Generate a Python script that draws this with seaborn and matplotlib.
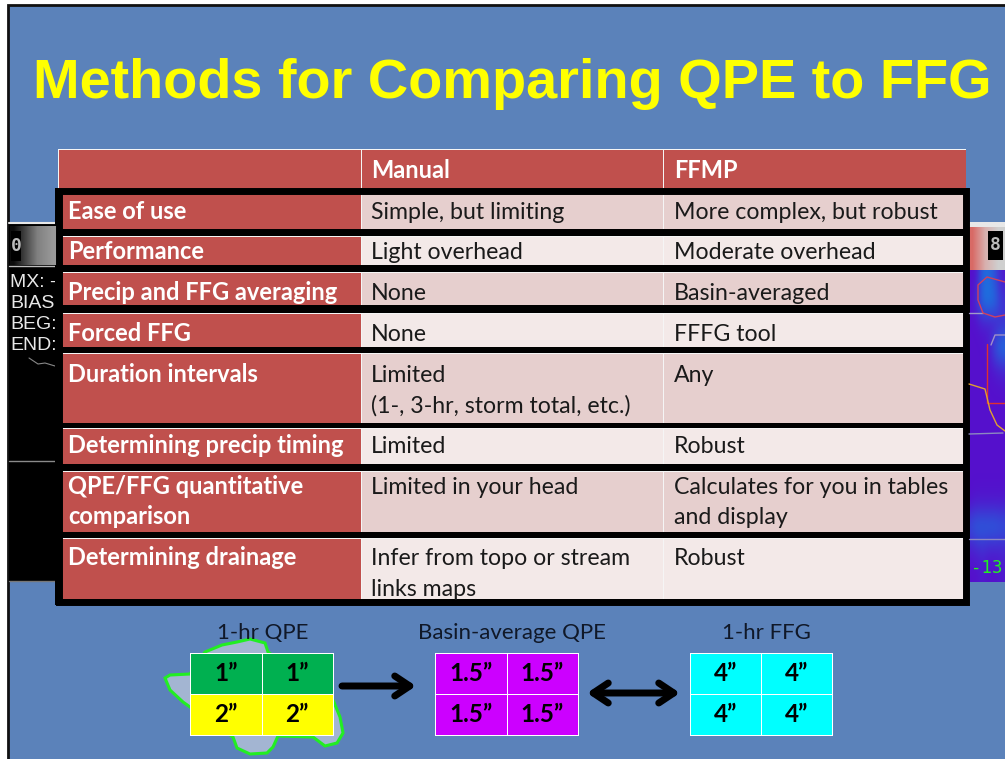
import numpy as np
import matplotlib.pyplot as plt
import seaborn as sns
from matplotlib.colors import ListedColormap, LinearSegmentedColormap
from matplotlib.patches import Polygon, Rectangle

# Table content
header = ["", "Manual", "FFMP"]
row_names = [["Ease of use"], ["Performance"], ["Precip and FFG averaging"], ["Forced FFG"],
             ["Duration intervals"], ["Determining precip timing"],
             ["QPE/FFG quantitative", "comparison"], ["Determining drainage"]]
manual = [["Simple, but limiting"], ["Light overhead"], ["None"], ["None"],
          ["Limited", "(1-, 3-hr, storm total, etc.)"], ["Limited"],
          ["Limited in your head"], ["Infer from topo or stream", "links maps"]]
ffmp = [["More complex, but robust"], ["Moderate overhead"], ["Basin-averaged"], ["FFFG tool"],
        ["Any"], ["Robust"], ["Calculates for you in tables", "and display"], ["Robust"]]

# Grids under the table
qpe_cells = [["1\u201d", "1\u201d"], ["2\u201d", "2\u201d"]]
qpe_codes = [[0, 0], [1, 1]]
basin_cells = [["1.5\u201d", "1.5\u201d"], ["1.5\u201d", "1.5\u201d"]]
ffg_cells = [["4\u201d", "4\u201d"], ["4\u201d", "4\u201d"]]

# Radar strip on the right, 0 = purple, 1 = blue (read by eye)
radar = [[0.0, 0.0, 0.8, 0.9, 0.6, 0.1],
         [0.0, 0.2, 0.9, 1.0, 0.9, 0.4],
         [0.0, 0.0, 0.1, 0.1, 0.1, 0.3],
         [0.0, 0.0, 0.0, 0.1, 0.7, 1.0],
         [0.0, 0.0, 0.0, 0.0, 0.1, 0.2],
         [0.0, 0.0, 0.0, 0.0, 0.0, 0.0],
         [0.0, 0.0, 0.0, 0.0, 0.0, 0.0],
         [0.0, 0.0, 0.0, 0.0, 0.0, 0.0],
         [0.0, 0.0, 0.0, 0.0, 0.0, 0.0],
         [0.0, 0.0, 0.0, 0.0, 0.0, 0.0],
         [0.0, 0.1, 0.1, 0.1, 0.1, 0.1],
         [0.6, 0.8, 0.8, 0.8, 0.8, 0.7],
         [0.1, 0.2, 0.3, 0.2, 0.2, 0.2],
         [0.0, 0.0, 0.1, 0.0, 0.0, 0.1]]

W, H = 1005, 759
RED = "#C0504D"
PINK = "#E6CFCE"
LIGHT = "#F3E9E8"
BG = "#5B82BA"
TEXT = "#1A1A1A"

sns.set_theme(style="white")
plt.rcParams["font.family"] = ["Lato", "DejaVu Sans"]

fig = plt.figure(figsize=(W / 100, H / 100), dpi=100, facecolor="white")


def pixel_axes(left, top, right, bottom, z):
    return fig.add_axes([left / W, 1 - bottom / H, (right - left) / W, (bottom - top) / H], zorder=z)


# Background slide
back = pixel_axes(0, 0, W, H, 0)
back.set_xlim(0, W)
back.set_ylim(H, 0)
back.axis("off")
back.add_patch(Rectangle((8, 5), W, H, fc=BG, ec="#111111", lw=2))

# Black panels behind the table
back.add_patch(Rectangle((9, 222), 60, 360, fc="black", ec="none"))
back.plot([9, 56], [223, 223], color="#E8E8E8", lw=1.5)
back.plot([9, 56], [265.5, 265.5], color="#BBBBBB", lw=1)
back.plot([9, 56], [461, 461], color="#8A8A8A", lw=1)
back.plot([9, 56], [581, 581], color="#777777", lw=1)
back.plot([29, 38, 45, 55], [358, 364, 363, 366], color="#888888", lw=0.8)
back.add_patch(Rectangle((55, 188), 914, 417, fc="black", ec="none", zorder=3))

bar_left = pixel_axes(10, 226, 56, 265, 1)
bar_left.imshow([[0.05, 0.2, 0.35, 0.5, 0.55, 0.6]], aspect="auto", cmap="gray", vmin=0, vmax=1, interpolation="bilinear")
bar_left.axis("off")
for y, s in zip([287, 308, 329, 350], ["MX: -", "BIAS,", "BEG:", "END:"]):
    back.text(10, y, s, color="#E8E8E8", fontsize=14, family="Liberation Sans", zorder=2)

# Right radar strip
strip_cmap = LinearSegmentedColormap.from_list("radar", ["#5510CC", "#1878E0"])
strip = pixel_axes(966, 270, W, 582, 1)
strip.imshow(radar, aspect="auto", cmap=strip_cmap, vmin=0, vmax=1, interpolation="bicubic")
strip.axis("off")

bar_right = pixel_axes(966, 227, W, 270, 1)
bar_right.imshow([[0.0, 0.5, 1.0]], aspect="auto", interpolation="bilinear",
                 cmap=LinearSegmentedColormap.from_list("bar", ["#D86A66", "#D8B0AE", "#CFCFCF"]))
bar_right.axis("off")
back.add_patch(Rectangle((969, 222), 40, 5, fc="#E8E8E8", ec="none"))

# Table rows as one heatmap per row
cmap_cells = ListedColormap([RED, PINK, LIGHT])
row_top = [149, 193, 236, 272, 313, 353, 428, 471, 538]
row_bottom = [189, 229, 265, 305, 347, 423, 464, 532, 599]
baselines = [178, 219, 259, 300, 341, 382, 453, 494, 565]
for i in range(len(row_top)):
    ax = pixel_axes(58, row_top[i], 966, row_bottom[i], 2)
    if i == 0:
        codes = [[0, 0, 0]]
    else:
        tint = 1 if i % 2 == 1 else 2
        codes = [[0, tint, tint]]
    sns.heatmap(codes, ax=ax, cmap=cmap_cells, vmin=0, vmax=2, cbar=False, linewidths=0.7, linecolor="#F5F5F5",
                xticklabels=False, yticklabels=False)

# Bottom grids
grid_cmap = ListedColormap(["#00B050", "#FFFF00"])
for left, right, codes, labels, cmap in [
    (190, 333, qpe_codes, qpe_cells, grid_cmap),
    (435, 578, [[0, 0], [0, 0]], basin_cells, ListedColormap(["#CC00FF"])),
    (690, 832, [[0, 0], [0, 0]], ffg_cells, ListedColormap(["#00FFFF"])),
]:
    ax = pixel_axes(left, 653, right, 735, 2)
    sns.heatmap(codes, ax=ax, cmap=cmap, cbar=False, linewidths=0.6, linecolor="white", clip_on=False,
                xticklabels=False, yticklabels=False, annot=np.array(labels), fmt="",
                annot_kws={"color": "black", "fontsize": 17.5, "fontweight": "bold"})

# Basin outline behind the first grid
basin_x = [205, 222, 237, 250, 265, 268, 333, 340, 343, 337, 325, 313, 278, 273, 267, 250, 237, 233, 190, 183, 170, 165, 170, 190]
basin_y = [652, 645, 642, 639, 643, 652, 700, 717, 733, 743, 746, 737, 736, 747, 753, 754, 748, 737, 707, 702, 690, 678, 675, 674]
back.add_patch(Polygon(list(zip(basin_x, basin_y)), closed=True, fc="#A3B5D2", ec="#22EE22", lw=2.2))

# Overlay with frame and all text
top = pixel_axes(0, 0, W, H, 5)
top.set_xlim(0, W)
top.set_ylim(H, 0)
top.axis("off")
top.patch.set_alpha(0)
top.add_patch(Rectangle((58.5, 191), 907.5, 411, fc="none", ec="black", lw=5, joinstyle="miter"))

# Map lines over the radar strip
top.plot([969, 983], [313, 313], color="#A09AC8", lw=1)
top.plot([1005, 987, 978, 978, 983, 995, 1005], [282, 277, 285, 300, 313, 317, 315], color="#D04060", lw=1)
top.plot([1005, 995, 991], [335, 335, 345], color="#A090C8", lw=1)
top.plot([987, 987, 1005], [344, 403, 403], color="#E03030", lw=1)
top.plot([969, 985, 990, 997, 1005], [384, 389, 410, 425, 431], color="#E0A030", lw=1)
top.plot([969, 1003], [434, 433], color="#8C88C0", lw=1)
top.plot([969, 1005], [539, 539], color="#8C88C0", lw=1)

top.text(33, 98, "Methods for Comparing QPE to FFG", color="#FFFF00", fontsize=40.2, fontweight="bold",
         family="Liberation Sans")

col_x = [68, 371, 674]
BOLD_FS = 17.0
FS = 16.7
top.text(col_x[1], baselines[0], header[1], color="white", fontsize=BOLD_FS, fontweight="bold")
top.text(col_x[2], baselines[0], header[2], color="white", fontsize=BOLD_FS, fontweight="bold")
for i in range(len(row_names)):
    base = baselines[i + 1]
    for k, s in enumerate(row_names[i]):
        top.text(col_x[0], base + 30 * k, s, color="white", fontsize=BOLD_FS, fontweight="bold")
    for k, s in enumerate(manual[i]):
        top.text(col_x[1], base + 30.5 * k, s, color=TEXT, fontsize=FS)
    for k, s in enumerate(ffmp[i]):
        top.text(col_x[2], base + 30.5 * k, s, color=TEXT, fontsize=FS)

for x, s in [(263, "1-hr QPE"), (512, "Basin-average QPE"), (766, "1-hr FFG")]:
    top.text(x, 639, s, color="#101828", fontsize=16, ha="center")

top.annotate("", xy=(416, 686), xytext=(342, 686), arrowprops=dict(arrowstyle="->,head_length=0.9,head_width=0.6", lw=5, color="black", shrinkA=0, shrinkB=0))
top.annotate("", xy=(680, 693), xytext=(587, 693), arrowprops=dict(arrowstyle="<->,head_length=0.9,head_width=0.6", lw=5, color="black", shrinkA=0, shrinkB=0))

top.add_patch(Rectangle((11, 231), 10, 30, fc="black", ec="none"))
top.text(16, 246, "0", color="#BBBBBB", fontsize=13, fontweight="bold", ha="center", va="center", family="DejaVu Sans Mono")
top.add_patch(Rectangle((988, 231), 15, 29, fc="black", ec="none"))
top.text(995.5, 245, "8", color="#BBBBBB", fontsize=13, fontweight="bold", ha="center", va="center", family="DejaVu Sans Mono")
top.text(971, 573, "-13", color="#22EE22", fontsize=12.5, family="DejaVu Sans Mono")

plt.savefig("out.png", dpi=100)
